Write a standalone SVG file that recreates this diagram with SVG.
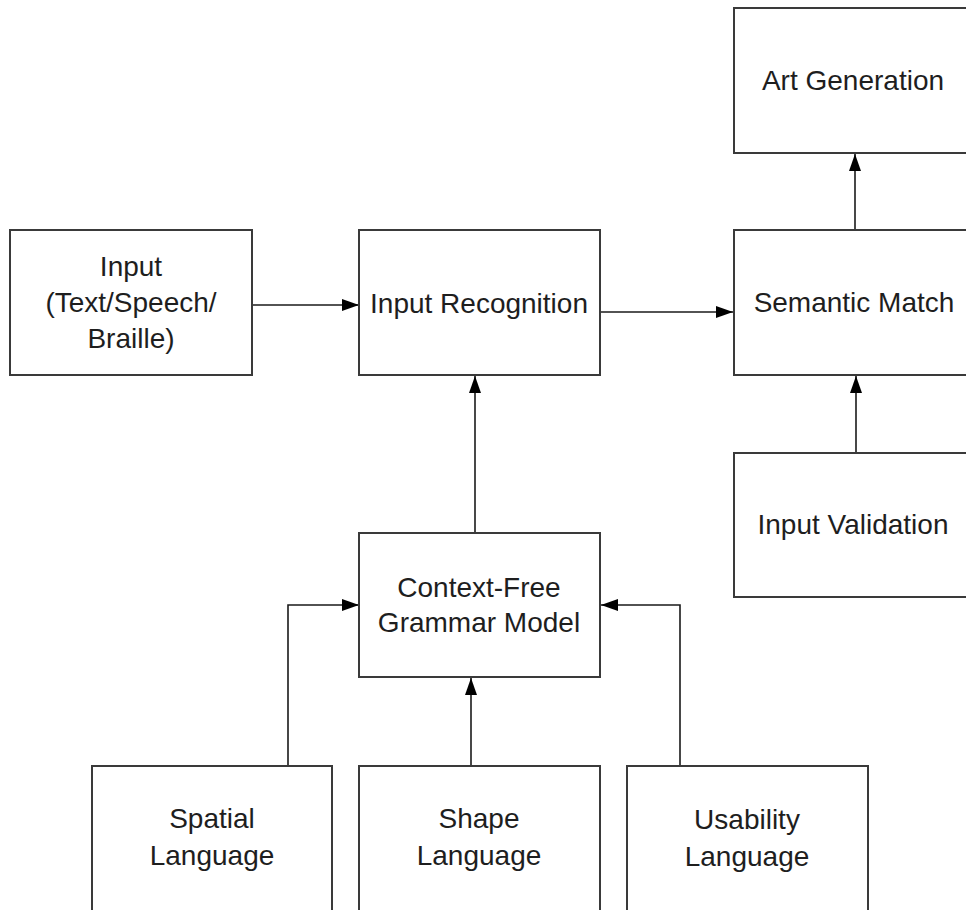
<svg xmlns="http://www.w3.org/2000/svg" width="966" height="910" viewBox="0 0 966 910">
<style>
.box{fill:#fff;stroke:#3a3a3a;stroke-width:2}
.lbl{font-family:"Liberation Sans",Arial,sans-serif;font-size:28px;fill:#1e1e1e;text-anchor:middle}
.conn{fill:none;stroke:#1a1a1a;stroke-width:1.6}
</style>
<defs>
<marker id="arr" markerWidth="18" markerHeight="12" refX="17" refY="6" orient="auto" markerUnits="userSpaceOnUse">
<path d="M0,0 L17,6 L0,12 Z" fill="#000"/>
</marker>
</defs>
<rect width="966" height="910" fill="#fff"/>
<g id="connectors">
<line class="conn" x1="252" y1="305" x2="359" y2="305" marker-end="url(#arr)"/>
<line class="conn" x1="600" y1="312" x2="733" y2="312" marker-end="url(#arr)"/>
<line class="conn" x1="855" y1="230" x2="855" y2="154" marker-end="url(#arr)"/>
<line class="conn" x1="856" y1="453" x2="856" y2="376" marker-end="url(#arr)"/>
<line class="conn" x1="475" y1="533" x2="475" y2="376" marker-end="url(#arr)"/>
<line class="conn" x1="471" y1="766" x2="471" y2="678" marker-end="url(#arr)"/>
<polyline class="conn" points="288,766 288,605 359,605" marker-end="url(#arr)"/>
<polyline class="conn" points="680,766 680,605 601,605" marker-end="url(#arr)"/>
</g>
<g id="input">
<rect class="box" x="10" y="230" width="242" height="145"/>
<text class="lbl" x="131" y="276">Input</text>
<text class="lbl" x="131" y="312">(Text/Speech/</text>
<text class="lbl" x="131" y="348">Braille)</text>
</g>
<g id="input-recognition">
<rect class="box" x="359" y="230" width="241" height="145"/>
<text class="lbl" x="479" y="313">Input Recognition</text>
</g>
<g id="semantic-match">
<rect class="box" x="734" y="230" width="240" height="145"/>
<text class="lbl" x="854" y="312">Semantic Match</text>
</g>
<g id="art-generation">
<rect class="box" x="734" y="8" width="240" height="145"/>
<text class="lbl" x="853" y="90">Art Generation</text>
</g>
<g id="input-validation">
<rect class="box" x="734" y="453" width="240" height="144"/>
<text class="lbl" x="853" y="534">Input Validation</text>
</g>
<g id="context-free">
<rect class="box" x="359" y="533" width="241" height="144"/>
<text class="lbl" x="479" y="597">Context-Free</text>
<text class="lbl" x="479" y="632">Grammar Model</text>
</g>
<g id="spatial-language">
<rect class="box" x="92" y="766" width="240" height="150"/>
<text class="lbl" x="212" y="828">Spatial</text>
<text class="lbl" x="212" y="865">Language</text>
</g>
<g id="shape-language">
<rect class="box" x="359" y="766" width="241" height="150"/>
<text class="lbl" x="479" y="828">Shape</text>
<text class="lbl" x="479" y="865">Language</text>
</g>
<g id="usability-language">
<rect class="box" x="627" y="766" width="241" height="150"/>
<text class="lbl" x="747" y="829">Usability</text>
<text class="lbl" x="747" y="866">Language</text>
</g>
</svg>
